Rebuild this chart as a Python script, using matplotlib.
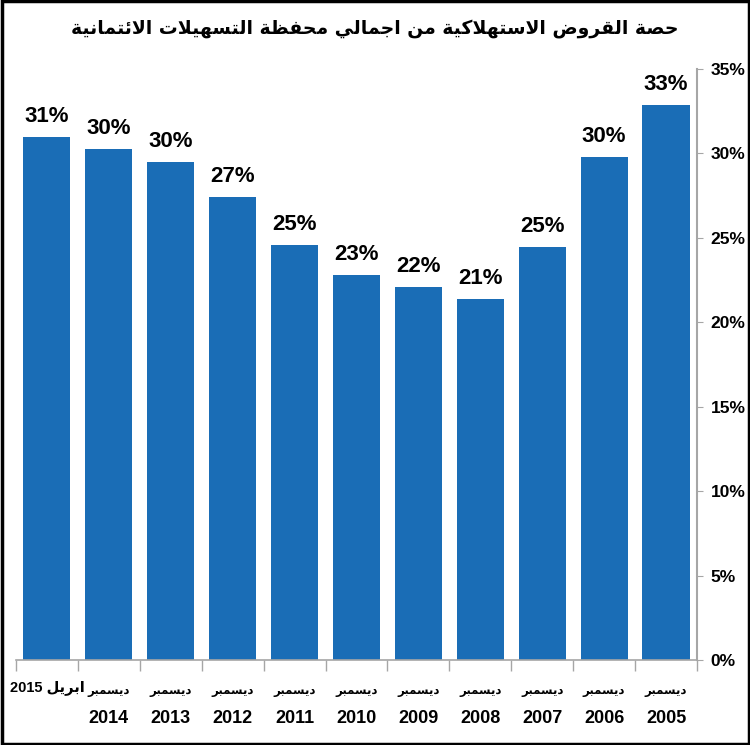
import matplotlib
matplotlib.use('Agg')
from matplotlib import pyplot as plt
from matplotlib.patches import Rectangle

# البيانات (من اليمين إلى اليسار كما في الصورة)
months = ['ابريل', 'ديسمبر', 'ديسمبر', 'ديسمبر', 'ديسمبر', 'ديسمبر',
          'ديسمبر', 'ديسمبر', 'ديسمبر', 'ديسمبر', 'ديسمبر']
years = ['2015', '2014', '2013', '2012', '2011', '2010',
         '2009', '2008', '2007', '2006', '2005']
shares = [30.97, 30.25, 29.48, 27.41, 24.57, 22.80, 22.10, 21.37, 24.47, 29.76, 32.86]
share_labels = ['31%', '30%', '30%', '27%', '25%', '23%', '22%', '21%', '25%', '30%', '33%']
yticks = [0, 5, 10, 15, 20, 25, 30, 35]
title = 'حصة القروض الاستهلاكية من اجمالي محفظة التسهيلات الائتمانية'

# تشكيل الحروف العربية يدويا (matplotlib لا يدعم الربط)
BASE = {'ا': 0xFE8D, 'ب': 0xFE8F, 'ة': 0xFE93, 'ت': 0xFE95, 'ج': 0xFE9D,
        'ح': 0xFEA1, 'د': 0xFEA9, 'ر': 0xFEAD, 'س': 0xFEB1, 'ص': 0xFEB9,
        'ض': 0xFEBD, 'ظ': 0xFEC5, 'ف': 0xFED1, 'ق': 0xFED5, 'ك': 0xFED9,
        'ل': 0xFEDD, 'م': 0xFEE1, 'ن': 0xFEE5, 'ه': 0xFEE9, 'و': 0xFEED,
        'ي': 0xFEF1, 'ئ': 0xFE89}
RIGHT_ONLY = set('اةدرو')


def ar(text):
    out = []
    prev = False
    i = 0
    while i < len(text):
        c = text[i]
        if c not in BASE:
            out.append(c)
            prev = False
            i += 1
            continue
        if c == 'ل' and i + 1 < len(text) and text[i + 1] == 'ا':
            out.append('\uFEFC' if prev else '\uFEFB')
            prev = False
            i += 2
            continue
        nxt = i + 1 < len(text) and text[i + 1] in BASE
        dual = c not in RIGHT_ONLY
        b = BASE[c]
        if dual and nxt and prev:
            f = b + 3
        elif dual and nxt:
            f = b + 2
        elif prev:
            f = b + 1
        else:
            f = b
        out.append(chr(f))
        prev = dual
        i += 1
    return ''.join(reversed(out))


plt.rcParams['font.family'] = ['Liberation Sans', 'DejaVu Sans']

blue = '#1a6db6'
grey = '#a6a6a6'

fig = plt.figure(figsize=(7.5, 7.45), dpi=100)
fig.patches.append(Rectangle((0.002, 0.002), 0.996, 0.996, transform=fig.transFigure,
                             fill=False, edgecolor='black', linewidth=2.5))
ax = fig.add_axes([0.0213, 0.1141, 0.9080, 0.7933])

x = list(range(len(shares)))
ax.bar(x, shares, width=0.76, color=blue)
for xi, v, lab in zip(x, shares, share_labels):
    ax.annotate(lab, (xi, v), xytext=(0, 11), textcoords='offset points',
                ha='center', va='baseline', fontsize=16, fontweight='bold')

ax.set_xlim(-0.5, len(shares) - 0.5)
ax.set_ylim(0, 35)
ax.set_yticks(yticks)
ax.set_yticklabels([f'{t}%' for t in yticks])
ax.yaxis.tick_right()
ax.tick_params(axis='y', direction='out', length=4, color=grey, pad=6,
               labelsize=12.5)
for t in ax.get_yticklabels():
    t.set_fontweight('bold')

# تسميات المحور الأفقي: الشهر فوق والسنة تحت
ax.set_xticks([i - 0.5 for i in range(len(shares) + 1)])
ax.set_xticklabels([])
ax.tick_params(axis='x', length=8, color=grey, width=1)
xt = ax.get_xaxis_transform()
for xi, m, y in zip(x, months, years):
    if m == 'ابريل':
        ax.text(xi, -0.046, y + ' ' + ar(m), transform=xt, ha='center',
                va='center', fontsize=10.5, fontweight='bold')
    else:
        ax.text(xi, -0.052, ar(m), transform=xt, ha='center', va='center',
                fontsize=8.5, fontweight='bold', family='DejaVu Sans')
        ax.text(xi, -0.099, y, transform=xt, ha='center', va='center',
                fontsize=13, fontweight='bold')

for s in ['top', 'left']:
    ax.spines[s].set_visible(False)
ax.spines['bottom'].set_color(grey)
ax.spines['right'].set_color(grey)
ax.spines['right'].set_linewidth(1.5)
ax.spines['bottom'].set_linewidth(1.2)

fig.text(0.5, 0.962, ar(title), ha='center', va='center', fontsize=13.5,
         fontweight='bold', family='DejaVu Sans')

plt.savefig('out.png', dpi=100)
